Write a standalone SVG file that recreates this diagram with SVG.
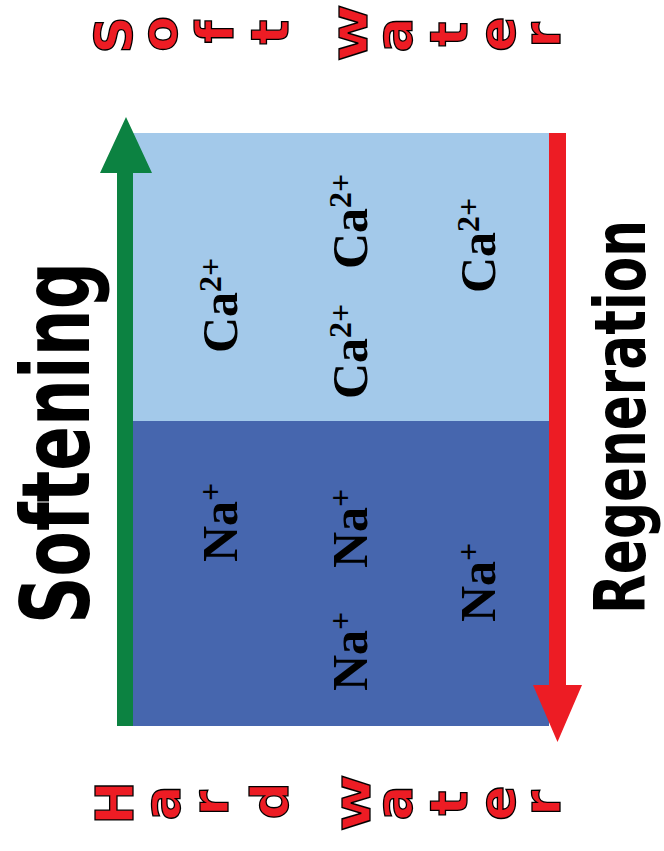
<svg xmlns="http://www.w3.org/2000/svg" width="664" height="851" viewBox="0 0 664 851">
<style>
.ltr{font-family:"DejaVu Sans","Liberation Sans",sans-serif;font-weight:bold;font-size:52px;fill:#ED1C24;stroke:#000;stroke-width:1.3px;text-anchor:middle}
.ion{font-family:"Liberation Serif","Times New Roman",serif;font-weight:bold;font-size:50px;fill:#000}
.sup{font-size:32px}
.big{font-family:"DejaVu Sans","Liberation Sans",sans-serif;font-weight:bold;fill:#000}
</style>
<rect width="664" height="851" fill="#fff"/>
<g id="resin-top">
<rect x="133" y="133" width="416" height="288" fill="#A3C9EA"/>
</g>
<g id="resin-bottom">
<rect x="133" y="421" width="416" height="305" fill="#4666AE"/>
</g>
<g id="connectors">
<polygon id="softening-arrow" points="117,726 133,726 133,173 152,173 126,117 100,173 117,173" fill="#0C8241"/>
<polygon id="regeneration-arrow" points="549,133 566,133 566,685 582,685 557.5,742 533,685 549,685" fill="#ED1C24"/>
</g>
<g id="ions">
<text class="ion" transform="translate(237,353) rotate(-90)">Ca<tspan class="sup" dy="-16">2+</tspan></text>
<text class="ion" transform="translate(367,269) rotate(-90)">Ca<tspan class="sup" dy="-16">2+</tspan></text>
<text class="ion" transform="translate(367,399) rotate(-90)">Ca<tspan class="sup" dy="-16">2+</tspan></text>
<text class="ion" transform="translate(495,293) rotate(-90)">Ca<tspan class="sup" dy="-16">2+</tspan></text>
<text class="ion" transform="translate(237,562) rotate(-90)">Na<tspan class="sup" dy="-16">+</tspan></text>
<text class="ion" transform="translate(367,568) rotate(-90)">Na<tspan class="sup" dy="-16">+</tspan></text>
<text class="ion" transform="translate(367,691) rotate(-90)">Na<tspan class="sup" dy="-16">+</tspan></text>
<text class="ion" transform="translate(495,622) rotate(-90)">Na<tspan class="sup" dy="-16">+</tspan></text>
</g>
<g id="label-softening">
<text class="big" font-size="94" textLength="362" lengthAdjust="spacingAndGlyphs" transform="translate(89,624) rotate(-90)">Softening</text>
</g>
<g id="label-regeneration">
<text class="big" font-size="72" textLength="394" lengthAdjust="spacingAndGlyphs" transform="translate(645,614) rotate(-90)">Regeneration</text>
</g>
<g id="label-soft-water">
<text class="ltr" transform="translate(132,35) rotate(-90)">S</text>
<text class="ltr" transform="translate(177,34) rotate(-90)">o</text>
<text class="ltr" transform="translate(233,32) rotate(-90)">f</text>
<text class="ltr" transform="translate(288,32) rotate(-90)">t</text>
<text class="ltr" transform="translate(367,33) rotate(-90) scale(1.2,1)">w</text>
<text class="ltr" transform="translate(412,35) rotate(-90)">a</text>
<text class="ltr" transform="translate(467,34) rotate(-90)">t</text>
<text class="ltr" transform="translate(515,34) rotate(-90)">e</text>
<text class="ltr" transform="translate(560,35) rotate(-90)">r</text>
</g>
<g id="label-hard-water">
<text class="ltr" transform="translate(133,803) rotate(-90)">H</text>
<text class="ltr" transform="translate(180,803) rotate(-90)">a</text>
<text class="ltr" transform="translate(228,803) rotate(-90)">r</text>
<text class="ltr" transform="translate(288,801) rotate(-90)">d</text>
<text class="ltr" transform="translate(370,803) rotate(-90) scale(1.2,1)">w</text>
<text class="ltr" transform="translate(412,803) rotate(-90)">a</text>
<text class="ltr" transform="translate(467,803) rotate(-90)">t</text>
<text class="ltr" transform="translate(515,803) rotate(-90)">e</text>
<text class="ltr" transform="translate(560,803) rotate(-90)">r</text>
</g>
</svg>
